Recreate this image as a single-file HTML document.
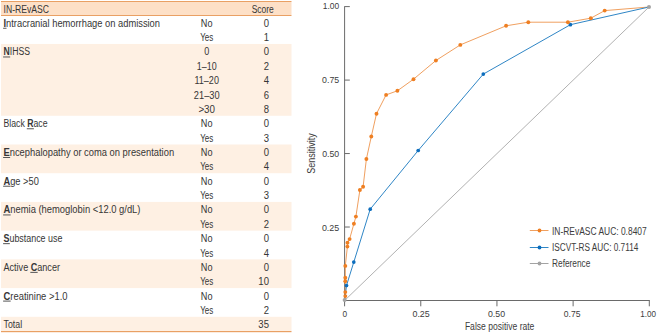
<!DOCTYPE html>
<html><head><meta charset="utf-8"><style>
html,body{margin:0;padding:0;background:#fff;width:658px;height:333px;overflow:hidden}
svg text{font-family:"Liberation Sans",sans-serif}
</style></head><body>
<svg width="658" height="333" viewBox="0 0 658 333" style="display:block">
<rect x="0" y="0" width="658" height="333" fill="#ffffff"/>
<rect x="1" y="2" width="290.5" height="13" fill="#fde0c7"/>
<rect x="1" y="43.97" width="290.5" height="71.80" fill="#fef0e3"/>
<rect x="1" y="144.49" width="290.5" height="28.72" fill="#fef0e3"/>
<rect x="1" y="201.93" width="290.5" height="28.72" fill="#fef0e3"/>
<rect x="1" y="259.37" width="290.5" height="28.72" fill="#fef0e3"/>
<rect x="1" y="316.81" width="290.5" height="14.19" fill="#fef0e3"/>
<rect x="1" y="1" width="290.5" height="1" fill="#e9a064"/>
<rect x="1" y="15" width="290.5" height="1" fill="#e9a064"/>
<rect x="1" y="331" width="290.5" height="1.2" fill="#e9a064"/>
<text x="3.60" y="12.50" font-size="10" textLength="45.49" lengthAdjust="spacingAndGlyphs" fill="#363636">IN-REvASC</text>
<text x="251.70" y="12.60" font-size="10" textLength="22.12" lengthAdjust="spacingAndGlyphs" fill="#363636">Score</text>
<text x="3.50" y="26.75" font-size="10" textLength="156.51" lengthAdjust="spacingAndGlyphs" fill="#363636"><tspan font-weight="bold">I</tspan>ntracranial hemorrhage on admission</text><rect x="3.10" y="27.75" width="3.41" height="1.0" fill="#555"/>
<text x="200.85" y="26.75" font-size="10" textLength="11.69" lengthAdjust="spacingAndGlyphs" fill="#363636">No</text>
<text x="263.63" y="26.75" font-size="10" textLength="5.28" lengthAdjust="spacingAndGlyphs" fill="#363636">0</text>
<text x="200.15" y="41.11" font-size="10" textLength="13.11" lengthAdjust="spacingAndGlyphs" fill="#363636">Yes</text>
<text x="263.63" y="41.11" font-size="10" textLength="5.28" lengthAdjust="spacingAndGlyphs" fill="#363636">1</text>
<text x="3.50" y="55.47" font-size="10" textLength="26.52" lengthAdjust="spacingAndGlyphs" fill="#363636"><tspan font-weight="bold">N</tspan>IHSS</text><rect x="3.10" y="56.47" width="7.05" height="1.0" fill="#555"/>
<text x="204.20" y="55.47" font-size="10" textLength="5.01" lengthAdjust="spacingAndGlyphs" fill="#363636">0</text>
<text x="263.63" y="55.47" font-size="10" textLength="5.28" lengthAdjust="spacingAndGlyphs" fill="#363636">0</text>
<text x="196.80" y="69.83" font-size="10" textLength="19.80" lengthAdjust="spacingAndGlyphs" fill="#363636">1–10</text>
<text x="263.63" y="69.83" font-size="10" textLength="5.28" lengthAdjust="spacingAndGlyphs" fill="#363636">2</text>
<text x="194.50" y="84.19" font-size="10" textLength="24.41" lengthAdjust="spacingAndGlyphs" fill="#363636">11–20</text>
<text x="263.63" y="84.19" font-size="10" textLength="5.28" lengthAdjust="spacingAndGlyphs" fill="#363636">4</text>
<text x="193.85" y="98.55" font-size="10" textLength="25.71" lengthAdjust="spacingAndGlyphs" fill="#363636">21–30</text>
<text x="263.63" y="98.55" font-size="10" textLength="5.28" lengthAdjust="spacingAndGlyphs" fill="#363636">6</text>
<text x="198.40" y="112.91" font-size="10" textLength="16.61" lengthAdjust="spacingAndGlyphs" fill="#363636">&gt;30</text>
<text x="263.63" y="112.91" font-size="10" textLength="5.28" lengthAdjust="spacingAndGlyphs" fill="#363636">8</text>
<text x="3.50" y="127.27" font-size="10" textLength="44.01" lengthAdjust="spacingAndGlyphs" fill="#363636">Black <tspan font-weight="bold">R</tspan>ace</text><rect x="26.80" y="128.27" width="7.07" height="1.0" fill="#555"/>
<text x="200.85" y="127.27" font-size="10" textLength="11.69" lengthAdjust="spacingAndGlyphs" fill="#363636">No</text>
<text x="263.63" y="127.27" font-size="10" textLength="5.28" lengthAdjust="spacingAndGlyphs" fill="#363636">0</text>
<text x="200.15" y="141.63" font-size="10" textLength="13.11" lengthAdjust="spacingAndGlyphs" fill="#363636">Yes</text>
<text x="263.63" y="141.63" font-size="10" textLength="5.28" lengthAdjust="spacingAndGlyphs" fill="#363636">3</text>
<text x="3.50" y="155.99" font-size="10" textLength="170.61" lengthAdjust="spacingAndGlyphs" fill="#363636"><tspan font-weight="bold">E</tspan>ncephalopathy or coma on presentation</text><rect x="3.10" y="156.99" width="7.02" height="1.0" fill="#555"/>
<text x="200.85" y="155.99" font-size="10" textLength="11.69" lengthAdjust="spacingAndGlyphs" fill="#363636">No</text>
<text x="263.63" y="155.99" font-size="10" textLength="5.28" lengthAdjust="spacingAndGlyphs" fill="#363636">0</text>
<text x="200.15" y="170.35" font-size="10" textLength="13.11" lengthAdjust="spacingAndGlyphs" fill="#363636">Yes</text>
<text x="263.63" y="170.35" font-size="10" textLength="5.28" lengthAdjust="spacingAndGlyphs" fill="#363636">4</text>
<text x="3.50" y="184.71" font-size="10" textLength="35.31" lengthAdjust="spacingAndGlyphs" fill="#363636"><tspan font-weight="bold">A</tspan>ge &gt;50</text><rect x="3.10" y="185.71" width="7.48" height="1.0" fill="#555"/>
<text x="200.85" y="184.71" font-size="10" textLength="11.69" lengthAdjust="spacingAndGlyphs" fill="#363636">No</text>
<text x="263.63" y="184.71" font-size="10" textLength="5.28" lengthAdjust="spacingAndGlyphs" fill="#363636">0</text>
<text x="200.15" y="199.07" font-size="10" textLength="13.11" lengthAdjust="spacingAndGlyphs" fill="#363636">Yes</text>
<text x="263.63" y="199.07" font-size="10" textLength="5.28" lengthAdjust="spacingAndGlyphs" fill="#363636">3</text>
<text x="3.50" y="213.43" font-size="10" textLength="136.98" lengthAdjust="spacingAndGlyphs" fill="#363636"><tspan font-weight="bold">A</tspan>nemia (hemoglobin &lt;12.0 g/dL)</text><rect x="3.10" y="214.43" width="7.56" height="1.0" fill="#555"/>
<text x="200.85" y="213.43" font-size="10" textLength="11.69" lengthAdjust="spacingAndGlyphs" fill="#363636">No</text>
<text x="263.63" y="213.43" font-size="10" textLength="5.28" lengthAdjust="spacingAndGlyphs" fill="#363636">0</text>
<text x="200.15" y="227.79" font-size="10" textLength="13.11" lengthAdjust="spacingAndGlyphs" fill="#363636">Yes</text>
<text x="263.63" y="227.79" font-size="10" textLength="5.28" lengthAdjust="spacingAndGlyphs" fill="#363636">2</text>
<text x="3.50" y="242.15" font-size="10" textLength="58.91" lengthAdjust="spacingAndGlyphs" fill="#363636"><tspan font-weight="bold">S</tspan>ubstance use</text><rect x="3.10" y="243.15" width="6.72" height="1.0" fill="#555"/>
<text x="200.85" y="242.15" font-size="10" textLength="11.69" lengthAdjust="spacingAndGlyphs" fill="#363636">No</text>
<text x="263.63" y="242.15" font-size="10" textLength="5.28" lengthAdjust="spacingAndGlyphs" fill="#363636">0</text>
<text x="200.15" y="256.51" font-size="10" textLength="13.11" lengthAdjust="spacingAndGlyphs" fill="#363636">Yes</text>
<text x="263.63" y="256.51" font-size="10" textLength="5.28" lengthAdjust="spacingAndGlyphs" fill="#363636">4</text>
<text x="3.50" y="270.87" font-size="10" textLength="56.48" lengthAdjust="spacingAndGlyphs" fill="#363636">Active <tspan font-weight="bold">C</tspan>ancer</text><rect x="30.33" y="271.87" width="7.33" height="1.0" fill="#555"/>
<text x="200.85" y="270.87" font-size="10" textLength="11.69" lengthAdjust="spacingAndGlyphs" fill="#363636">No</text>
<text x="263.63" y="270.87" font-size="10" textLength="5.28" lengthAdjust="spacingAndGlyphs" fill="#363636">0</text>
<text x="200.15" y="285.23" font-size="10" textLength="13.11" lengthAdjust="spacingAndGlyphs" fill="#363636">Yes</text>
<text x="258.35" y="285.23" font-size="10" textLength="10.57" lengthAdjust="spacingAndGlyphs" fill="#363636">10</text>
<text x="3.50" y="299.59" font-size="10" textLength="64.01" lengthAdjust="spacingAndGlyphs" fill="#363636"><tspan font-weight="bold">C</tspan>reatinine &gt;1.0</text><rect x="3.10" y="300.59" width="7.57" height="1.0" fill="#555"/>
<text x="200.85" y="299.59" font-size="10" textLength="11.69" lengthAdjust="spacingAndGlyphs" fill="#363636">No</text>
<text x="263.63" y="299.59" font-size="10" textLength="5.28" lengthAdjust="spacingAndGlyphs" fill="#363636">0</text>
<text x="200.15" y="313.95" font-size="10" textLength="13.11" lengthAdjust="spacingAndGlyphs" fill="#363636">Yes</text>
<text x="263.63" y="313.95" font-size="10" textLength="5.28" lengthAdjust="spacingAndGlyphs" fill="#363636">2</text>
<text x="3.50" y="328.31" font-size="10" textLength="18.59" lengthAdjust="spacingAndGlyphs" fill="#363636">Total</text>
<text x="258.35" y="328.31" font-size="10" textLength="10.57" lengthAdjust="spacingAndGlyphs" fill="#363636">35</text>
<line x1="344.6" y1="6.3" x2="344.6" y2="301.0" stroke="#6a6a6a" stroke-width="1"/>
<line x1="344.1" y1="300.5" x2="649.8" y2="300.5" stroke="#6a6a6a" stroke-width="1"/>
<line x1="344.6" y1="300.50" x2="349.80" y2="300.50" stroke="#6a6a6a" stroke-width="1"/>
<line x1="344.60" y1="300.5" x2="344.60" y2="306.30" stroke="#6a6a6a" stroke-width="1"/>
<line x1="344.6" y1="227.03" x2="349.80" y2="227.03" stroke="#6a6a6a" stroke-width="1"/>
<line x1="420.77" y1="300.5" x2="420.77" y2="306.30" stroke="#6a6a6a" stroke-width="1"/>
<line x1="344.6" y1="153.55" x2="349.80" y2="153.55" stroke="#6a6a6a" stroke-width="1"/>
<line x1="496.95" y1="300.5" x2="496.95" y2="306.30" stroke="#6a6a6a" stroke-width="1"/>
<line x1="344.6" y1="80.08" x2="349.80" y2="80.08" stroke="#6a6a6a" stroke-width="1"/>
<line x1="573.12" y1="300.5" x2="573.12" y2="306.30" stroke="#6a6a6a" stroke-width="1"/>
<line x1="344.6" y1="6.60" x2="349.80" y2="6.60" stroke="#6a6a6a" stroke-width="1"/>
<line x1="649.30" y1="300.5" x2="649.30" y2="306.30" stroke="#6a6a6a" stroke-width="1"/>
<polyline points="344.7,300.0 345.3,296.1 345.3,292.1 345.3,281.3 345.3,277.8 345.3,265.9 347.4,246.6 347.5,242.7 349.6,239.1 353.9,223.8 355.9,216.6 359.9,190.0 363.1,186.7 366.4,159.0 371.3,136.5 376.5,113.7 386.1,94.9 397.4,90.8 413.5,79.2 435.9,60.5 460.3,44.9 506.1,25.8 528.3,22.2 567.9,22.2 590.8,18.2 604.7,10.6 649.0,7.0" fill="none" stroke="#f0a060" stroke-width="1.0" stroke-linejoin="round"/>
<polyline points="344.7,300.0 346.5,285.5 353.8,262.1 370.2,209.2 418.2,150.5 483.3,74.1 570.4,24.7 649.0,7.0" fill="none" stroke="#2f86c6" stroke-width="1.0" stroke-linejoin="round"/>
<circle cx="346.5" cy="285.5" r="1.85" fill="#0c6dbd"/>
<circle cx="353.8" cy="262.1" r="1.85" fill="#0c6dbd"/>
<circle cx="370.2" cy="209.2" r="1.85" fill="#0c6dbd"/>
<circle cx="418.2" cy="150.5" r="1.85" fill="#0c6dbd"/>
<circle cx="483.3" cy="74.1" r="1.85" fill="#0c6dbd"/>
<circle cx="570.4" cy="24.7" r="1.85" fill="#0c6dbd"/>
<circle cx="345.3" cy="296.1" r="1.95" fill="#ef7f22"/>
<circle cx="345.3" cy="292.1" r="1.95" fill="#ef7f22"/>
<circle cx="345.3" cy="281.3" r="1.95" fill="#ef7f22"/>
<circle cx="345.3" cy="277.8" r="1.95" fill="#ef7f22"/>
<circle cx="345.3" cy="265.9" r="1.95" fill="#ef7f22"/>
<circle cx="347.4" cy="246.6" r="1.95" fill="#ef7f22"/>
<circle cx="347.5" cy="242.7" r="1.95" fill="#ef7f22"/>
<circle cx="349.6" cy="239.1" r="1.95" fill="#ef7f22"/>
<circle cx="353.9" cy="223.8" r="1.95" fill="#ef7f22"/>
<circle cx="355.9" cy="216.6" r="1.95" fill="#ef7f22"/>
<circle cx="359.9" cy="190.0" r="1.95" fill="#ef7f22"/>
<circle cx="363.1" cy="186.7" r="1.95" fill="#ef7f22"/>
<circle cx="366.4" cy="159.0" r="1.95" fill="#ef7f22"/>
<circle cx="371.3" cy="136.5" r="1.95" fill="#ef7f22"/>
<circle cx="376.5" cy="113.7" r="1.95" fill="#ef7f22"/>
<circle cx="386.1" cy="94.9" r="1.95" fill="#ef7f22"/>
<circle cx="397.4" cy="90.8" r="1.95" fill="#ef7f22"/>
<circle cx="413.5" cy="79.2" r="1.95" fill="#ef7f22"/>
<circle cx="435.9" cy="60.5" r="1.95" fill="#ef7f22"/>
<circle cx="460.3" cy="44.9" r="1.95" fill="#ef7f22"/>
<circle cx="506.1" cy="25.8" r="1.95" fill="#ef7f22"/>
<circle cx="528.3" cy="22.2" r="1.95" fill="#ef7f22"/>
<circle cx="567.9" cy="22.2" r="1.95" fill="#ef7f22"/>
<circle cx="590.8" cy="18.2" r="1.95" fill="#ef7f22"/>
<circle cx="604.7" cy="10.6" r="1.95" fill="#ef7f22"/>
<line x1="344.6" y1="300.5" x2="649.0" y2="7.0" stroke="#a8a8a8" stroke-width="0.9"/>
<circle cx="344.6" cy="299.9" r="2" fill="#a3a3a3"/>
<circle cx="649.0" cy="7.0" r="2" fill="#a3a3a3"/>
<text x="321.90" y="230.80" font-size="9.4" textLength="17.31" lengthAdjust="spacingAndGlyphs" fill="#3c3c3c">0.25</text>
<text x="322.20" y="157.00" font-size="9.4" textLength="17.01" lengthAdjust="spacingAndGlyphs" fill="#3c3c3c">0.50</text>
<text x="322.10" y="83.40" font-size="9.4" textLength="17.11" lengthAdjust="spacingAndGlyphs" fill="#3c3c3c">0.75</text>
<text x="322.80" y="9.10" font-size="9.4" textLength="16.41" lengthAdjust="spacingAndGlyphs" fill="#3c3c3c">1.00</text>
<text x="342.40" y="317.20" font-size="9.4" textLength="4.61" lengthAdjust="spacingAndGlyphs" fill="#3c3c3c">0</text>
<text x="412.45" y="317.20" font-size="9.4" textLength="17.31" lengthAdjust="spacingAndGlyphs" fill="#3c3c3c">0.25</text>
<text x="487.98" y="317.20" font-size="9.4" textLength="17.06" lengthAdjust="spacingAndGlyphs" fill="#3c3c3c">0.50</text>
<text x="563.85" y="317.20" font-size="9.4" textLength="16.71" lengthAdjust="spacingAndGlyphs" fill="#3c3c3c">0.75</text>
<text x="640.20" y="317.20" font-size="9.4" textLength="15.81" lengthAdjust="spacingAndGlyphs" fill="#3c3c3c">1.00</text>
<text x="464.90" y="329.80" font-size="10" textLength="69.50" lengthAdjust="spacingAndGlyphs" fill="#3c3c3c">False positive rate</text>
<g transform="translate(315.0,173.7) rotate(-90)"><text x="0.00" y="0.00" font-size="10" textLength="40.31" lengthAdjust="spacingAndGlyphs" fill="#3c3c3c">Sensitivity</text></g>
<line x1="529.8" y1="230.5" x2="548.5" y2="230.5" stroke="#f0a060" stroke-width="1"/>
<circle cx="539.5" cy="230.5" r="1.9" fill="#ef7f22"/>
<text x="552.00" y="234.50" font-size="10" textLength="94.72" lengthAdjust="spacingAndGlyphs" fill="#3c3c3c">IN-REvASC AUC: 0.8407</text>
<line x1="529.8" y1="247.5" x2="548.5" y2="247.5" stroke="#2f86c6" stroke-width="1"/>
<circle cx="539.5" cy="247.5" r="1.9" fill="#0c6dbd"/>
<text x="552.00" y="250.80" font-size="10" textLength="86.31" lengthAdjust="spacingAndGlyphs" fill="#3c3c3c">ISCVT-RS AUC: 0.7114</text>
<line x1="529.8" y1="263.5" x2="548.5" y2="263.5" stroke="#a3a3a3" stroke-width="1"/>
<circle cx="539.5" cy="263.5" r="1.9" fill="#a3a3a3"/>
<text x="552.00" y="267.00" font-size="10" textLength="38.39" lengthAdjust="spacingAndGlyphs" fill="#3c3c3c">Reference</text>
</svg>
</body></html>
